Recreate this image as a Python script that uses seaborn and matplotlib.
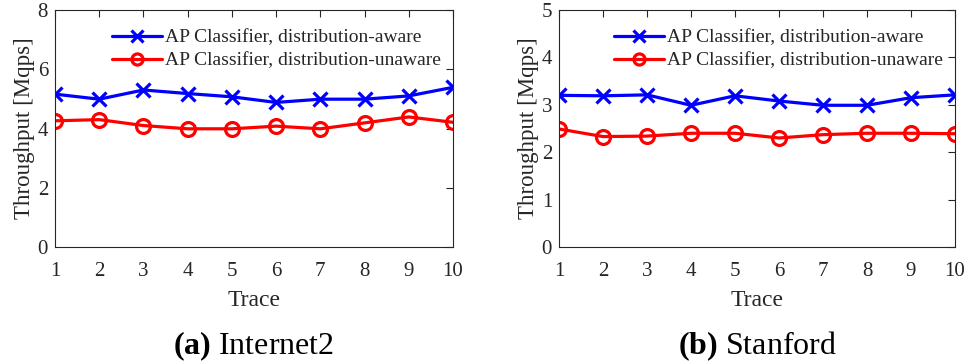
import matplotlib
matplotlib.use("Agg")
import matplotlib.pyplot as plt
import seaborn as sns
import pandas as pd

traces = [1, 2, 3, 4, 5, 6, 7, 8, 9, 10]
labels = ["AP Classifier, distribution-aware", "AP Classifier, distribution-unaware"]
internet2_aware = [5.16, 4.99, 5.30, 5.18, 5.07, 4.88, 4.99, 4.99, 5.10, 5.39]
internet2_unaware = [4.26, 4.30, 4.10, 3.99, 3.99, 4.08, 3.99, 4.19, 4.39, 4.21]
stanford_aware = [3.20, 3.19, 3.21, 2.99, 3.19, 3.08, 2.99, 2.99, 3.15, 3.21]
stanford_unaware = [2.49, 2.33, 2.34, 2.40, 2.40, 2.30, 2.37, 2.40, 2.40, 2.39]
captions = [("(a)", "Internet2"), ("(b)", "Stanford")]

sns.set_theme(style="white")
plt.rcParams["font.family"] = ["Liberation Serif", "DejaVu Serif"]
plt.rcParams["mathtext.fontset"] = "custom"
plt.rcParams["mathtext.rm"] = "Liberation Serif"
plt.rcParams["mathtext.bf"] = "Liberation Serif:bold"

fig = plt.figure(figsize=(9.7, 3.64), dpi=100)
ax1 = fig.add_axes([0.0567, 0.3214, 0.4103, 0.6511])
ax2 = fig.add_axes([0.5763, 0.3214, 0.4082, 0.6511])

panels = [
    (ax1, internet2_aware, internet2_unaware, 8, [0, 2, 4, 6, 8]),
    (ax2, stanford_aware, stanford_unaware, 5, [0, 1, 2, 3, 4, 5]),
]

styles = [("#0000ff", "x"), ("#ff0000", "o")]

for ax, aware, unaware, ymax, yt in panels:
    for vals, lab, (col, mk) in zip([aware, unaware], labels, styles):
        df = pd.DataFrame({"Trace": traces, "Throughput": vals})
        sns.lineplot(data=df, x="Trace", y="Throughput", color=col, marker=mk,
                     linewidth=2.3, markersize=10, markeredgewidth=2.3,
                     markerfacecolor="none", markeredgecolor=col, label=lab, ax=ax)
    ax.set_xlim(1, 10)
    ax.set_ylim(0, ymax)
    ax.set_xticks(traces)
    ax.set_yticks(yt)
    ax.tick_params(axis="both", which="both", direction="in", length=5, width=0.8,
                   top=True, right=True, labelsize=15, colors="#262626",
                   labelcolor="#262626")
    ax.tick_params(axis="x", pad=11)
    ax.tick_params(axis="y", pad=5)
    ax.set_xlabel("Trace", fontsize=17, color="#262626", labelpad=6)
    ax.set_ylabel("Throughput [Mqps]", fontsize=16.5, color="#262626", labelpad=2)
    for s in ax.spines.values():
        s.set_color("#262626")
        s.set_linewidth(0.8)
    leg = ax.legend(loc="upper right", bbox_to_anchor=(1.012, 0.99), frameon=False,
                    fontsize=14, handlelength=2.6, borderaxespad=0.45,
                    labelspacing=0.28, handletextpad=0.15, markerscale=0.8)

for ax, (a, b) in zip([ax1, ax2], captions):
    pos = ax.get_position()
    cx = (pos.x0 + pos.x1) / 2
    fig.text(cx, 0.05, f"$\\mathbf{{{a}}}$ {b}", ha="center", va="center",
             fontsize=23, color="black")

fig.savefig("out.png", dpi=100)
